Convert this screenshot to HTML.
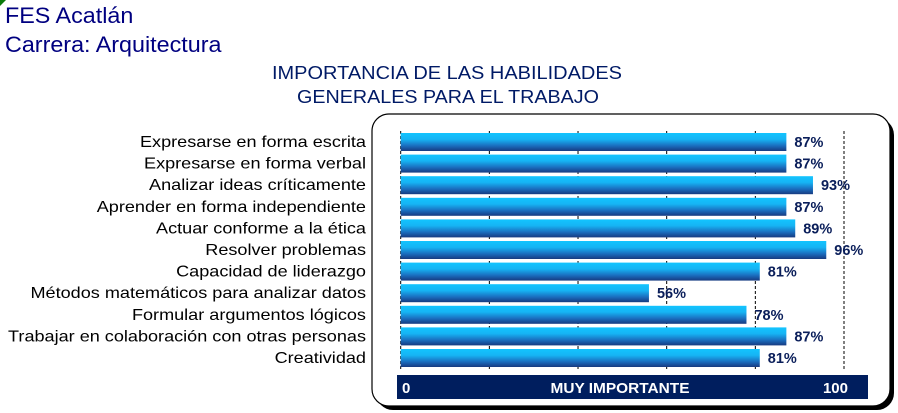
<!DOCTYPE html>
<html><head><meta charset="utf-8"><style>
body{margin:0;width:898px;height:413px;background:#fff;font-family:"Liberation Sans",sans-serif;overflow:hidden;position:relative}
.t{position:absolute;color:#000080;font-size:22px;left:5px;white-space:nowrap;transform-origin:0 0;transform:scaleX(1.06)}
</style></head><body>
<div style="position:absolute;left:0;top:0;width:0;height:0;border-top:6px solid #0a7a0a;border-right:6px solid transparent"></div>
<div class="t" style="top:3px">FES Acatlán</div>
<div class="t" style="top:32px">Carrera: Arquitectura</div>
<svg width="898" height="413" style="position:absolute;left:0;top:0">
<defs>
<linearGradient id="g" x1="0" y1="0" x2="0" y2="1">
<stop offset="0" stop-color="#12c4ff"/><stop offset="0.35" stop-color="#16b4f4"/><stop offset="0.7" stop-color="#1a6fc0"/><stop offset="1" stop-color="#173a80"/>
</linearGradient>
</defs>
<text x="272" y="79" textLength="350" lengthAdjust="spacingAndGlyphs" font-size="18.5" fill="#001a66">IMPORTANCIA DE LAS HABILIDADES</text>
<text x="297" y="103" textLength="302" lengthAdjust="spacingAndGlyphs" font-size="18.5" fill="#001a66">GENERALES PARA EL TRABAJO</text>
<rect x="376" y="118" width="518" height="292" rx="17" fill="#000"/>
<rect x="372" y="114" width="518" height="292" rx="17" fill="#fff" stroke="#000" stroke-width="1.2"/>
<g id="grid"></g>
<g id="bars"></g>
<g id="labels" transform="translate(366,0) scale(1.13,1) translate(-366,0)"></g>
<rect x="397" y="375" width="471" height="24" fill="#001e5e"/>
<text x="402" y="393" font-size="15" font-weight="bold" fill="#fff">0</text>
<text x="620" y="393" text-anchor="middle" textLength="139" lengthAdjust="spacingAndGlyphs" font-size="15" font-weight="bold" fill="#fff">MUY IMPORTANTE</text>
<text x="848" y="393" text-anchor="end" font-size="15" font-weight="bold" fill="#fff">100</text>
</svg>
<script>
const categories=["Expresarse en forma escrita","Expresarse en forma verbal","Analizar ideas críticamente","Aprender en forma independiente","Actuar conforme a la ética","Resolver problemas","Capacidad de liderazgo","Métodos matemáticos para analizar datos","Formular argumentos lógicos","Trabajar en colaboración con otras personas","Creatividad"];
const values=[87,87,93,87,89,96,81,56,78,87,81];
const gridTicks=[0,20,40,60,80,100];
const NS="http://www.w3.org/2000/svg";
const x=v=>400.7+v*4.433;
const y=i=>133+i*21.6;
const grid=document.getElementById('grid'),bars=document.getElementById('bars'),labels=document.getElementById('labels');
gridTicks.forEach(t=>{
 const l=document.createElementNS(NS,'line');
 
 
 l.setAttribute('x1',x(t));l.setAttribute('x2',x(t));l.setAttribute('y1',131);l.setAttribute('y2',370);
 l.setAttribute('stroke','#000');l.setAttribute('stroke-width','1');l.setAttribute('stroke-dasharray','3,2');
 grid.appendChild(l);
});
categories.forEach((c,i)=>{
 const r=document.createElementNS(NS,'rect');
 
 
 r.setAttribute('x',x(0));r.setAttribute('y',y(i));r.setAttribute('width',x(values[i])-x(0));r.setAttribute('height',18);
 r.setAttribute('fill','url(#g)');bars.appendChild(r);
 const v=document.createElementNS(NS,'text');
 
 
 v.setAttribute('x',x(values[i])+8);v.setAttribute('y',y(i)+14);v.setAttribute('font-size','14.5');v.setAttribute('font-weight','bold');v.setAttribute('fill','#0a1e5a');
 v.textContent=values[i]+'%';bars.appendChild(v);
 const t=document.createElementNS(NS,'text');
 
 
 t.setAttribute('x',366);t.setAttribute('y',y(i)+14);t.setAttribute('text-anchor','end');t.setAttribute('font-size','16');t.setAttribute('fill','#000');
 t.textContent=c;labels.appendChild(t);
});
</script>
</body></html>
